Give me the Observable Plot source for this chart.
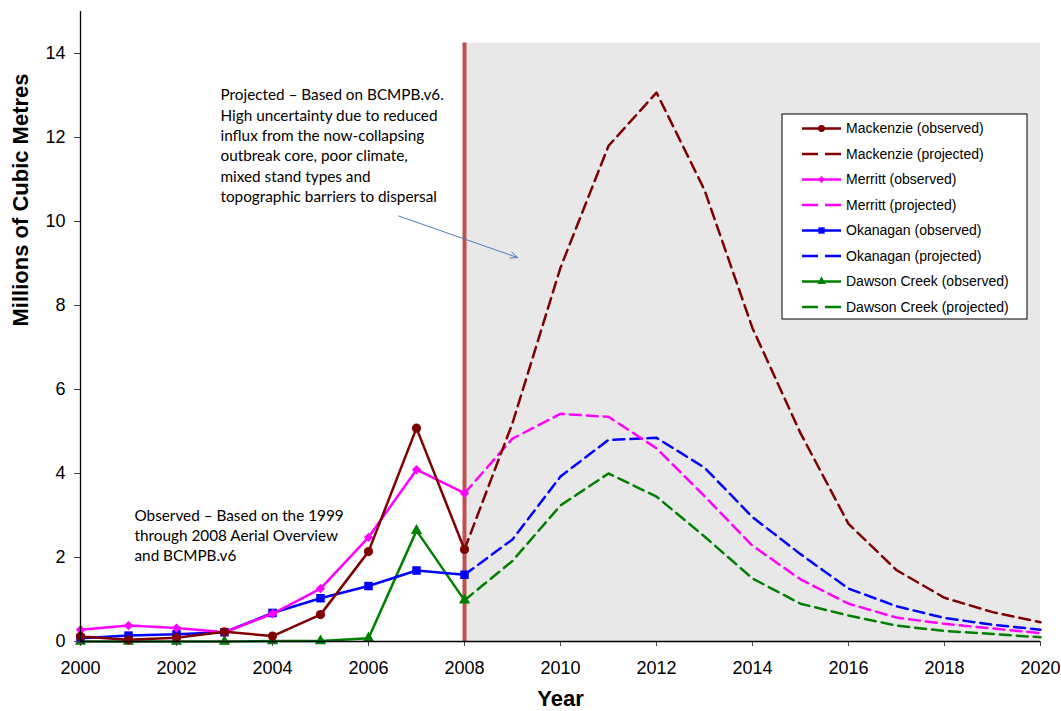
<!DOCTYPE html>
<html>
<head>
<meta charset="utf-8">
<script src="https://cdn.jsdelivr.net/npm/d3@7"></script>
<script src="https://cdn.jsdelivr.net/npm/@observablehq/plot@0.6"></script>
<style>
  body { margin: 0; background: #fff; }
</style>
</head>
<body>
<div id="chart"></div>
<script>
// ---------------- DATA ----------------
const obsYears  = [2000, 2001, 2002, 2003, 2004, 2005, 2006, 2007, 2008];
const projYears = [2008, 2009, 2010, 2011, 2012, 2013, 2014, 2015, 2016, 2017, 2018, 2019, 2020];

const regionNames = ["Mackenzie", "Merritt", "Okanagan", "Dawson Creek"];

const mackenzieObs = [0.12, 0.04, 0.09, 0.23, 0.13, 0.64, 2.14, 5.08, 2.19];
const merrittObs   = [0.28, 0.38, 0.32, 0.22, 0.66, 1.26, 2.48, 4.09, 3.53];
const okanaganObs  = [0.08, 0.14, 0.17, 0.22, 0.68, 1.03, 1.32, 1.69, 1.59];
const dawsonObs    = [0.00, 0.00, 0.00, 0.00, 0.01, 0.01, 0.08, 2.64, 0.98];

const mackenzieProj = [2.19, 5.2, 8.9, 11.8, 13.07, 10.75, 7.46, 4.96, 2.8, 1.7, 1.04, 0.7, 0.46];
const merrittProj   = [3.53, 4.83, 5.42, 5.35, 4.6, 3.46, 2.28, 1.48, 0.9, 0.57, 0.42, 0.31, 0.2];
const okanaganProj  = [1.59, 2.43, 3.93, 4.8, 4.85, 4.14, 2.96, 2.08, 1.26, 0.84, 0.56, 0.4, 0.28];
const dawsonProj    = [0.98, 1.92, 3.24, 4.0, 3.45, 2.5, 1.5, 0.9, 0.62, 0.38, 0.25, 0.18, 0.1];

const xTicks = [2000, 2002, 2004, 2006, 2008, 2010, 2012, 2014, 2016, 2018, 2020];
const yTicks = [0, 2, 4, 6, 8, 10, 12, 14];
const xDomain = [2000, 2020];
const yDomain = [0, 15];

const splitYear = 2008;     // observed / projected boundary
const shadeTop = 14.25;

const projectedNote = "Projected – Based on BCMPB.v6.\nHigh uncertainty due to reduced\ninflux from the now-collapsing\noutbreak core, poor climate,\nmixed stand types and\ntopographic barriers to dispersal";
const observedNote = "Observed – Based on the 1999\nthrough 2008 Aerial Overview\nand BCMPB.v6";
const arrowFrom = [2006.63, 10.13];
const arrowTo   = [2009.11, 9.14];

const xTitle = "Year";
const yTitle = "Millions of Cubic Metres";

// ---------------- STYLE ----------------
const styles = {
  "Mackenzie":    {color: "#800000", symbol: "circle",   r: 4.6, obs: mackenzieObs, proj: mackenzieProj},
  "Merritt":      {color: "#ff00ff", symbol: "diamond2", r: 4.2, obs: merrittObs,   proj: merrittProj},
  "Okanagan":     {color: "#0000ff", symbol: "square",   r: 4.8, obs: okanaganObs,  proj: okanaganProj},
  "Dawson Creek": {color: "#008000", symbol: "triangle", r: 4.2, obs: dawsonObs,    proj: dawsonProj}
};

const obsRows = regionNames.flatMap(n => obsYears.map((yr, i) => ({name: n, year: yr, value: styles[n].obs[i]})));
const projRows = regionNames.flatMap(n => projYears.map((yr, i) => ({name: n, year: yr, value: styles[n].proj[i]})));

const FONT = "'Liberation Sans', Arial, sans-serif";
const NOTE_FONT = "Lato, 'Open Sans', sans-serif";

const marks = [
  Plot.rect([{x1: splitYear, x2: xDomain[1], y1: 0, y2: shadeTop}], {x1: "x1", x2: "x2", y1: "y1", y2: "y2", fill: "#e8e8e8"}),
  Plot.ruleX([splitYear], {y1: 0, y2: shadeTop, stroke: "#c0504d", strokeWidth: 4}),
];

for (const n of [...regionNames].reverse()) {
  marks.push(Plot.line(projRows.filter(d => d.name === n), {
    x: "year", y: "value", stroke: styles[n].color, strokeWidth: 2.5,
    strokeDasharray: "11,6", strokeLinejoin: "round"
  }));
}
for (const n of [...regionNames].reverse()) {
  marks.push(Plot.line(obsRows.filter(d => d.name === n), {
    x: "year", y: "value", stroke: styles[n].color, strokeWidth: 2.5
  }));
  marks.push(Plot.dot(obsRows.filter(d => d.name === n), {
    x: "year", y: "value", symbol: styles[n].symbol, fill: styles[n].color, r: styles[n].r, stroke: "none"
  }));
}

marks.push(
  Plot.axisY({ticks: yTicks, tickSize: 6, tickPadding: 9, fontSize: 18, label: null, stroke: "#444", fill: "#000"}),
  Plot.axisX({ticks: xTicks, tickFormat: d => String(d), tickSize: 5, tickPadding: 15, fontSize: 18, label: null, stroke: "#444", fill: "#000"}),
  Plot.ruleY([0], {x1: xDomain[0], x2: xDomain[1], stroke: "#000", strokeWidth: 1.3}),
  Plot.ruleX([xDomain[0]], {y1: 0, y2: yDomain[1], stroke: "#000", strokeWidth: 1.3}),
  Plot.text([xTitle], {frameAnchor: "bottom", dy: 57, fontSize: 22, fontWeight: "bold", lineAnchor: "middle", fill: "#000"}),
  Plot.text([yTitle], {frameAnchor: "left", dx: -60, rotate: -90, fontSize: 22, fontWeight: "bold", lineAnchor: "middle", fill: "#000"}),
  Plot.text([projectedNote], {frameAnchor: "top-left", dx: 140, dy: 133, lineAnchor: "middle", textAnchor: "start", fontFamily: NOTE_FONT, fontSize: 15.3, lineHeight: 1.33, fill: "#000"}),
  Plot.text([observedNote], {frameAnchor: "top-left", dx: 54, dy: 523, lineAnchor: "middle", textAnchor: "start", fontFamily: NOTE_FONT, fontSize: 15.3, lineHeight: 1.3, fill: "#000"}),
  Plot.arrow([{x1: arrowFrom[0], y1: arrowFrom[1], x2: arrowTo[0], y2: arrowTo[1]}], {x1: "x1", y1: "y1", x2: "x2", y2: "y2", stroke: "#4a7ebb", strokeWidth: 1, headLength: 12, headAngle: 45})
);

const plot = Plot.plot({
  width: 1061,
  height: 711,
  marginLeft: 80,
  marginRight: 21,
  marginTop: 11,
  marginBottom: 70,
  x: {domain: xDomain, axis: null},
  y: {domain: yDomain, axis: null},
  style: {fontFamily: FONT, fontSize: "18px", background: "#fff", color: "#000"},
  marks
});

// ---------------- LEGEND (inside the plot area) ----------------
const svg = d3.select(plot);
const lg = svg.append("g").attr("font-family", FONT).attr("font-size", 14).attr("text-anchor", "start");
const box = {x: 782, y: 114, w: 245, h: 205};
lg.append("rect").attr("x", box.x).attr("y", box.y).attr("width", box.w).attr("height", box.h)
  .attr("fill", "#fff").attr("stroke", "#000").attr("stroke-width", 1);
const rowY0 = 128.5, rowStep = 25.5;
const symMap = {circle: d3.symbolCircle, diamond2: d3.symbolDiamond2, square: d3.symbolSquare, triangle: d3.symbolTriangle};
regionNames.forEach((n, k) => {
  const s = styles[n];
  [["observed", false], ["projected", true]].forEach(([kind, dashed], j) => {
    const y = rowY0 + rowStep * (2 * k + j);
    lg.append("line").attr("x1", 802).attr("x2", 841).attr("y1", y).attr("y2", y)
      .attr("stroke", s.color).attr("stroke-width", 2.5)
      .attr("stroke-dasharray", dashed ? "16,7" : null);
    if (!dashed) {
      lg.append("path").attr("transform", `translate(821.5,${y})`)
        .attr("d", d3.symbol(symMap[s.symbol], Math.PI * (s.r * 0.75) ** 2)())
        .attr("fill", s.color);
    }
    lg.append("text").attr("x", 846).attr("y", y).attr("dy", "0.35em").attr("fill", "#000")
      .attr("text-anchor", "start")
      .text(`${n} (${kind})`);
  });
});

document.getElementById("chart").appendChild(plot);
</script>
</body>
</html>
